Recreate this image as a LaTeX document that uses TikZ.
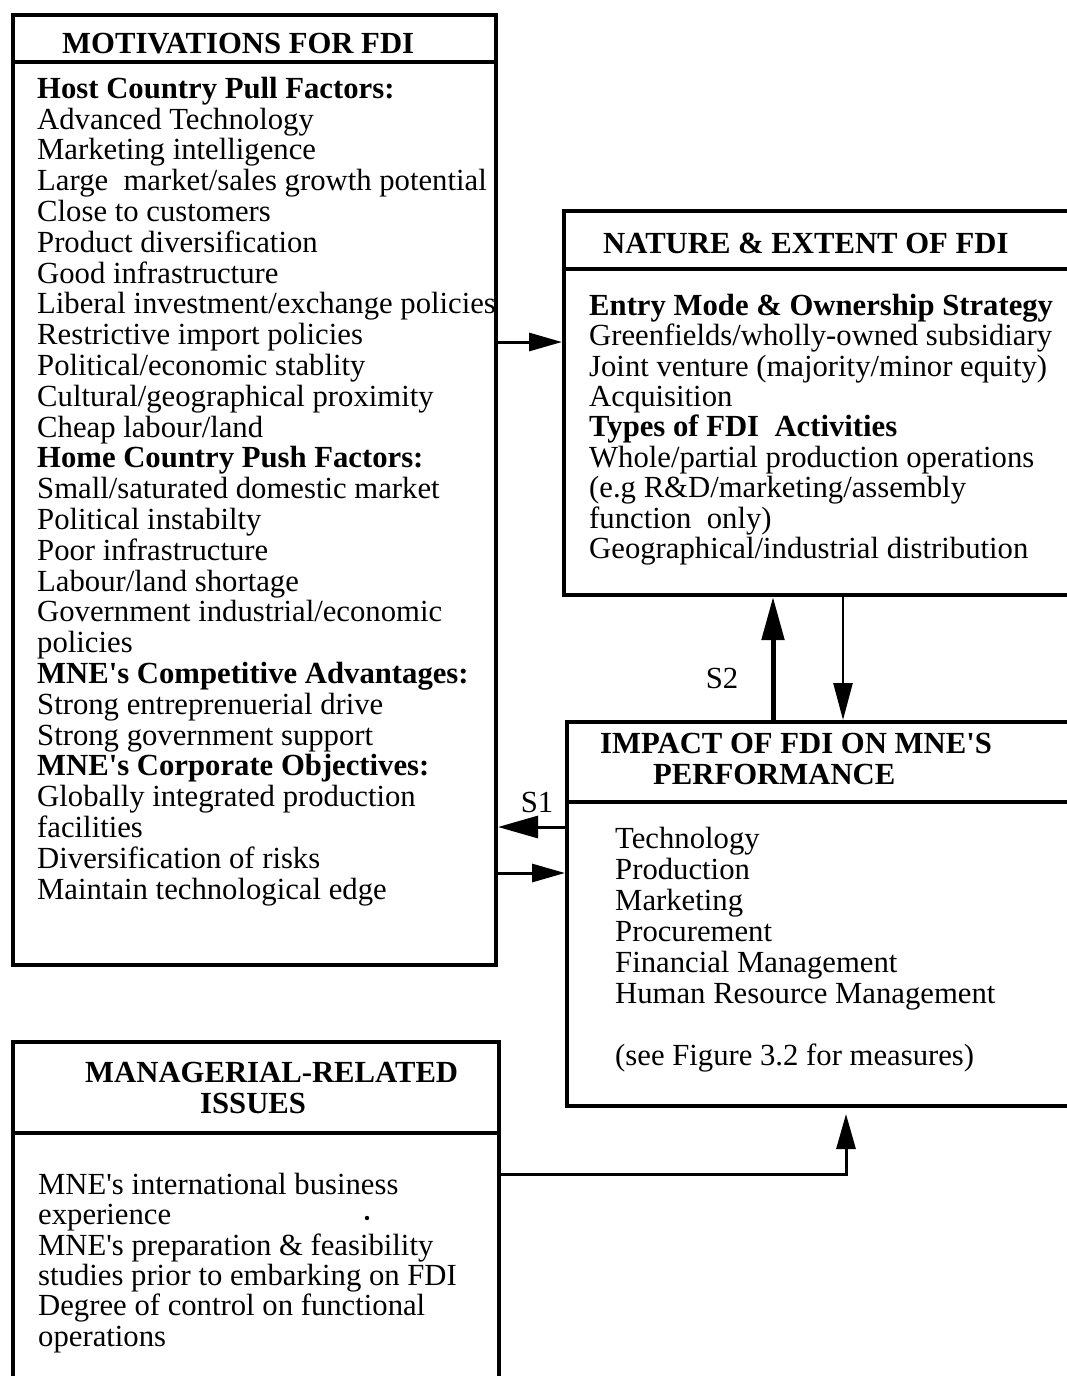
\documentclass[tikz,border=0pt]{standalone}
\usepackage{fontspec}
\setmainfont{Liberation Serif}[Ligatures=TeXOff]
\usetikzlibrary{arrows.meta}
\newcommand\bodyfont{\fontsize{30.7pt}{30.8pt}\selectfont}
\newcommand\topline{\rule{0pt}{25pt}}
\begin{document}
\begin{tikzpicture}[x=1pt,y=-1pt,
  frame/.style={draw, line width=4pt, inner sep=0pt, anchor=north west},
  sep/.style={line width=4pt},
  txt/.style={inner sep=0pt, anchor=north west, align=left, font=\bodyfont},
  hdr/.style={txt, font=\bodyfont\bfseries},
  lbl/.style={inner sep=0pt, anchor=base, font=\bodyfont},
  link/.style={line width=3pt, -{Triangle[length=33pt,width=18pt]}},
]
\useasboundingbox (0,0) rectangle (1067,1376);
\clip (0,0) rectangle (1067,1376);

% ---- frames ----
\node[frame, minimum width=483pt, minimum height=950pt] (mot) at (11,13) {};
\node[frame, minimum width=516pt, minimum height=384pt] (nat) at (562,209) {};
\node[frame, minimum width=513pt, minimum height=384pt] (imp) at (565,720) {};
\node[frame, minimum width=486pt, minimum height=358pt] (man) at (11,1040) {};

% ---- header rules ----
\draw[sep] (mot.west |- 0,62) -- (mot.east |- 0,62);
\draw[sep] (nat.west |- 0,269) -- (nat.east |- 0,269);
\draw[sep] (imp.west |- 0,802) -- (imp.east |- 0,802);
\draw[sep] (man.west |- 0,1133) -- (man.east |- 0,1133);

% ---- headings ----
\node[hdr, anchor=base west] (motT) at (62,53) {MOTIVATIONS FOR FDI};
\node[hdr, anchor=base west] (natT) at (603,253) {NATURE \& EXTENT OF FDI};
\node[hdr] (impT) at (600,728) {\topline IMPACT OF FDI ON MNE'S\\\hspace*{53pt}PERFORMANCE};
\node[hdr] (manT) at (85,1057) {\topline MANAGERIAL-RELATED\\\hspace*{115pt}ISSUES};

% ---- contents ----
\node[txt] (motB) at (37,73) {\topline\textbf{Host Country Pull Factors:}\\
Advanced Technology\\
Marketing intelligence\\
Large~~market/sales growth potential\\
Close to customers\\
Product diversification\\
Good infrastructure\\
Liberal investment/exchange policies\\
Restrictive import policies\\
Political/economic stablity\\
Cultural/geographical proximity\\
Cheap labour/land\\
\textbf{Home Country Push Factors:}\\
Small/saturated domestic market\\
Political instabilty\\
Poor infrastructure\\
Labour/land shortage\\
Government industrial/economic\\
policies\\
\textbf{MNE's Competitive Advantages:}\\
Strong entreprenuerial drive\\
Strong government support\\
\textbf{MNE's Corporate Objectives:}\\
Globally integrated production\\
facilities\\
Diversification of risks\\
Maintain technological edge};

\node[txt, font=\fontsize{30.7pt}{30.4pt}\selectfont] (natB) at (589,290) {\topline\textbf{Entry Mode \& Ownership Strategy}\\
Greenfields/wholly-owned subsidiary\\
Joint venture (majority/minor equity)\\
Acquisition\\
\textbf{Types of FDI~~Activities}\\
Whole/partial production operations\\
(e.g R\&D/marketing/assembly\\
function~~only)\\
Geographical/industrial distribution};

\node[txt, font=\fontsize{30.7pt}{31pt}\selectfont] (impB) at (615,823) {\topline Technology\\
Production\\
Marketing\\
Procurement\\
Financial Management\\
Human Resource Management\\
\strut\\
(see Figure 3.2 for measures)};

\node[txt, font=\fontsize{30.7pt}{30.4pt}\selectfont] (manB) at (38,1169) {\topline MNE's international business\\
experience\\
MNE's preparation \& feasibility\\
studies prior to embarking on FDI\\
Degree of control on functional\\
operations};
\fill (367,1218) circle (2.2pt);

% ---- connectors ----
\draw[link] (mot.east |- 0,342) -- (nat.west |- 0,342);
\draw[line width=5pt, -{Triangle[length=43pt,width=22pt]}] (imp.north -| 773,0) -- (nat.south -| 773,0);
\draw[line width=2.5pt, -{Triangle[length=37pt,width=19pt]}] (nat.south -| 843,0) -- (imp.north -| 843,0);
\draw[line width=3pt, -{Triangle[length=40pt,width=22pt]}] (imp.west |- 0,827) -- (mot.east |- 0,827);
\draw[link] (mot.east |- 0,873) -- (imp.west |- 0,873);
\draw[line width=3pt, -{Triangle[length=35pt,width=19pt]}, shorten >=6pt] (man.east |- 0,1174) -| (imp.south -| 846,0);

% ---- link labels ----
\node[lbl] (s2) at (722,688) {S2};
\node[lbl] (s1) at (537,812) {S1};
\end{tikzpicture}
\end{document}
